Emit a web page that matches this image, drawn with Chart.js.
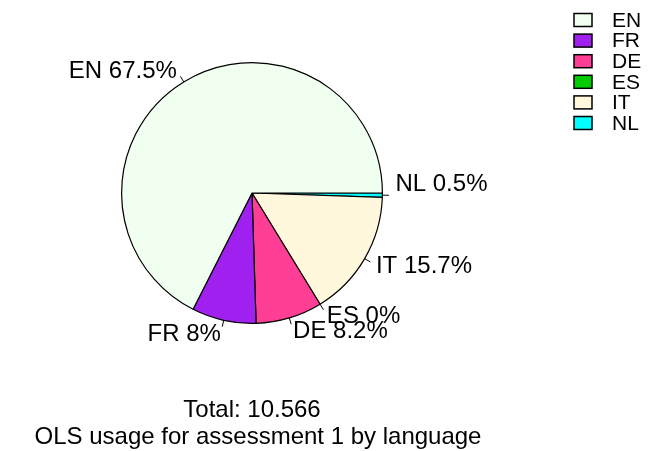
<!DOCTYPE html>
<html lang="en">
<head>
  <meta charset="UTF-8">
  <title>OLS usage by language</title>
  <script src="https://cdn.jsdelivr.net/npm/chart.js"></script>
  <style>
    html, body { margin: 0; padding: 0; background: #fff; }
    #wrap { position: relative; width: 654px; height: 451px; }
  </style>
</head>
<body>
  <div id="wrap">
    <canvas id="pieChart" width="654" height="451"></canvas>
  </div>

  <script>
    // data, in the order of the legend
    var categories = ['EN', 'FR', 'DE', 'ES', 'IT', 'NL'];
    var usage = [7.136, 0.841, 0.871, 0, 1.662, 0.056];
    var sliceColors = ['#F0FFF0', '#A020F0', '#FF3E96', '#00CD00', '#FFF8DC', '#00FFFF'];
    var subtitle = 'OLS usage for assessment 1 by language';

    var total = usage.reduce(function (a, b) { return a + b; }, 0);
    var sliceLabels = categories.map(function (c, i) {
      return c + ' ' + (+(usage[i] / total * 100).toFixed(1)) + '%';
    });

    var FONT = '"Liberation Sans", Arial, sans-serif';

    // pie is drawn counter-clockwise from 3 o'clock, so feed the slices reversed
    var rev = function (arr) { return arr.slice().reverse(); };

    var sliceText = {
      id: 'sliceText',
      afterDatasetsDraw: function (chart) {
        var ctx = chart.ctx;
        var arcs = chart.getDatasetMeta(0).data;
        var labels = rev(sliceLabels);
        ctx.save();
        ctx.strokeStyle = '#000';
        ctx.lineWidth = 1;
        ctx.fillStyle = '#000';
        ctx.font = '24px ' + FONT;
        ctx.textBaseline = 'middle';
        arcs.forEach(function (arc, i) {
          var a = (arc.startAngle + arc.endAngle) / 2;
          var r = arc.outerRadius;
          var cx = arc.x, cy = arc.y;
          var dx = Math.cos(a), dy = Math.sin(a);
          ctx.beginPath();
          ctx.moveTo(cx + dx * r, cy + dy * r);
          ctx.lineTo(cx + dx * r * 1.05, cy + dy * r * 1.05);
          ctx.stroke();
          var ty = cy + dy * r * 1.1;
          if (labels[i].indexOf('NL') === 0) ty -= 12;
          ctx.textAlign = dx < 0 ? 'right' : 'left';
          ctx.fillText(labels[i], cx + dx * r * 1.1, ty + 1);
        });
        ctx.restore();
      }
    };

    var sideLegend = {
      id: 'sideLegend',
      afterDraw: function (chart) {
        var ctx = chart.ctx;
        ctx.save();
        ctx.font = '21px ' + FONT;
        ctx.textBaseline = 'middle';
        ctx.textAlign = 'left';
        categories.forEach(function (c, i) {
          var y = 20 + i * 20.6;
          ctx.fillStyle = sliceColors[i];
          ctx.fillRect(574, y - 6.5, 18, 13);
          ctx.strokeStyle = '#000';
          ctx.lineWidth = 1.5;
          ctx.strokeRect(574, y - 6.5, 18, 13);
          ctx.fillStyle = '#000';
          ctx.fillText(c, 612, y + 1);
        });
        ctx.restore();
      }
    };

    var bottomTitle = {
      id: 'bottomTitle',
      afterDraw: function (chart) {
        var ctx = chart.ctx;
        ctx.save();
        ctx.font = '24px ' + FONT;
        ctx.fillStyle = '#000';
        ctx.textAlign = 'center';
        ctx.textBaseline = 'alphabetic';
        ctx.fillText('Total: ' + total.toFixed(3), 252, 417);
        ctx.fillText(subtitle, 258, 444);
        ctx.restore();
      }
    };

    var ctx = document.getElementById('pieChart').getContext('2d');
    var pieChart = new Chart(ctx, {
      type: 'pie',
      data: {
        labels: rev(categories),
        datasets: [{
          data: rev(usage),
          backgroundColor: rev(sliceColors),
          borderColor: '#000',
          borderWidth: 1.2
        }]
      },
      options: {
        responsive: false,
        animation: false,
        rotation: 90,
        layout: { padding: { left: 121, right: 271, top: 62, bottom: 127 } },
        plugins: {
          legend: { display: false },
          title: { display: false },
          tooltip: { enabled: false }
        }
      },
      plugins: [sliceText, sideLegend, bottomTitle]
    });
  </script>
</body>
</html>
